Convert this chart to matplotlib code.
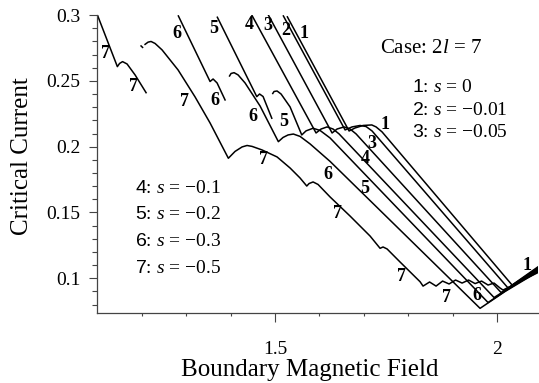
import matplotlib.pyplot as plt
import numpy as np

plt.rcParams['mathtext.fontset'] = 'custom'
plt.rcParams['mathtext.rm'] = 'Liberation Serif'
plt.rcParams['mathtext.it'] = 'Liberation Serif:italic'
plt.rcParams['mathtext.sf'] = 'Liberation Sans'

# critical current vs boundary field, case 2l = 7, one list pair per branch
# curve 1: s = 0
c1_x = [1.5277, 1.6667, 1.6802, 1.6982, 1.7178, 1.7275, 1.7410, 2.0338, 2.0946]
c1_y = [0.2986, 0.2119, 0.2142, 0.2161, 0.2165, 0.2150, 0.2112, 0.0949, 0.1093]
# curve 2: s = -0.01
c2_x = [1.5187, 1.6577, 1.6734, 1.6914, 1.7050, 1.7185, 2.0248, 2.0946]
c2_y = [0.2993, 0.2127, 0.2150, 0.2161, 0.2153, 0.2119, 0.0926, 0.1085]
# curve 3: s = -0.05
c3_x = [1.4849, 1.6284, 1.6396, 1.6554, 1.6689, 1.6824, 2.0090, 2.0946]
c3_y = [0.3000, 0.2104, 0.2134, 0.2150, 0.2134, 0.2097, 0.0892, 0.1078]
# curve 4: s = -0.1
c4_x = [1.4475, 1.5923, 1.6036, 1.6171, 1.6306, 1.6441, 1.9932, 2.0946]
c4_y = [0.3000, 0.2104, 0.2134, 0.2150, 0.2134, 0.2097, 0.0854, 0.1071]
# curve 5: s = -0.2
c5a_x = [1.3700, 1.4588, 1.4651, 1.4730, 1.4926]
c5a_y = [0.2983, 0.2380, 0.2400, 0.2381, 0.2216]
c5b_x = [1.4948, 1.4977, 1.5045, 1.5135, 1.5338, 1.5601, 1.5698, 1.5856, 1.6014,
         1.6239, 1.9797, 2.0180, 2.0946]
c5b_y = [0.2404, 0.2419, 0.2423, 0.2400, 0.2302, 0.2089, 0.2120, 0.2140, 0.2123,
         0.2066, 0.0816, 0.0903, 0.1063]
# curve 6: s = -0.3
c6a_x = [1.2822, 1.3536, 1.3604, 1.3694, 1.3874]
c6a_y = [0.2993, 0.2495, 0.2514, 0.2484, 0.2355]
c6b_x = [1.3975, 1.4009, 1.4077, 1.4167, 1.4324, 1.4662, 1.5074, 1.5180, 1.5293,
         1.5412, 1.5563, 1.5788, 1.6239, 1.9617, 2.0180, 2.0946]
c6b_y = [0.2537, 0.2556, 0.2562, 0.2545, 0.2484, 0.2309, 0.2038, 0.2070, 0.2089,
         0.2096, 0.2078, 0.2021, 0.1888, 0.0772, 0.0900, 0.1055]
# curve 7: s = -0.5
c7a_x = [1.1007, 1.1448, 1.1498, 1.1565, 1.1667, 1.1847, 1.2095]
c7a_y = [0.2993, 0.2608, 0.2632, 0.2646, 0.2628, 0.2545, 0.2410]
c7t_x = [1.1982, 1.2016]
c7t_y = [0.2765, 0.2754]
c7b_x = [1.2072, 1.2140, 1.2207, 1.2297, 1.2455, 1.2815, 1.3198, 1.3536, 1.3948,
         1.4099, 1.4257, 1.4369, 1.4482, 1.4707, 1.5045, 1.5338, 1.5563, 1.5714,
         1.5766, 1.5856, 1.5968, 1.6239, 1.6689, 1.7140, 1.7365, 1.7432, 1.7523,
         1.7815, 1.8266, 1.8333, 1.8480, 1.8626, 1.8773, 1.8919, 1.9065, 1.9212,
         1.9358, 1.9505, 1.9651, 1.9797, 1.9932, 2.0068, 2.0135, 2.0946]
c7b_y = [0.2777, 0.2794, 0.2799, 0.2784, 0.2735, 0.2583, 0.2378, 0.2180, 0.1912,
         0.1964, 0.1998, 0.2009, 0.2002, 0.1975, 0.1922, 0.1838, 0.1762, 0.1701,
         0.1720, 0.1732, 0.1713, 0.1618, 0.1473, 0.1321, 0.1228, 0.1238, 0.1223,
         0.1124, 0.0974, 0.0941, 0.0972, 0.0941, 0.0979, 0.0957, 0.0987, 0.0964,
         0.0987, 0.0960, 0.0979, 0.0949, 0.0964, 0.0926, 0.0911, 0.1048]

branches = [(c1_x, c1_y), (c2_x, c2_y), (c3_x, c3_y), (c4_x, c4_y),
            (c5a_x, c5a_y), (c5b_x, c5b_y), (c6a_x, c6a_y), (c6b_x, c6b_y),
            (c7a_x, c7a_y), (c7t_x, c7t_y), (c7b_x, c7b_y)]

# numbers written next to the curves
tag_text = ['7', '7', '7', '7', '7', '7', '7',
            '6', '6', '6', '6', '6',
            '5', '5', '5', '4', '4', '3', '3', '2', '1', '1', '1']
tag_x = [1.1182, 1.1802, 1.2962, 1.4736, 1.6408, 1.7854, 1.8867,
         1.2793, 1.3649, 1.4511, 1.6200, 1.9543,
         1.3619, 1.5187, 1.7027, 1.4414, 1.7027, 1.4827, 1.7178, 1.5236,
         1.5653, 1.7477, 2.0669]
tag_y = [0.2704, 0.2457, 0.2340, 0.1899, 0.1494, 0.1017, 0.0854,
         0.2862, 0.2351, 0.2228, 0.1785, 0.0873,
         0.2894, 0.2190, 0.1684, 0.2925, 0.1912, 0.2917, 0.2026, 0.2879,
         0.2856, 0.2165, 0.1101]

legend_top = ['$\\mathsf{1}$: $s$ = 0', '$\\mathsf{2}$: $s$ = \u22120.01',
              '$\\mathsf{3}$: $s$ = \u22120.05']
legend_bottom = ['$\\mathsf{4}$: $s$ = \u22120.1', '$\\mathsf{5}$: $s$ = \u22120.2',
                 '$\\mathsf{6}$: $s$ = \u22120.3', '$\\mathsf{7}$: $s$ = \u22120.5']

fig = plt.figure(figsize=(5.39, 3.83), dpi=100)
ax = fig.add_axes([0.180, 0.1836, 0.818, 0.7772])

for bx, by in branches:
    ax.plot(bx, by, color='black', lw=1.1)

for t, x, y in zip(tag_text, tag_x, tag_y):
    ax.text(x, y, t, ha='center', va='center', fontsize=13,
            family='Liberation Serif', fontweight='bold')

ax.text(1.7365, 0.2742, 'Case: 2$l$ = 7', ha='left', va='center',
        fontsize=15, family='Liberation Serif')
for i, s in enumerate(legend_top):
    ax.text(1.8079, 0.2451 - i * 0.0173, s, ha='left', va='center',
            fontsize=14, family='Liberation Serif')
for i, s in enumerate(legend_bottom):
    ax.text(1.1847, 0.1684 - i * 0.0202, s, ha='left', va='center',
            fontsize=14, family='Liberation Serif')

ax.set_xlim(1.099, 2.092)
ax.set_ylim(0.0739, 0.3)

ax.set_xticks([1.5, 2.0])
ax.set_xticklabels(['1.5', '2'])
ax.set_xticks(np.arange(1.2, 2.1, 0.1), minor=True)
ax.set_yticks([0.1, 0.15, 0.2, 0.25, 0.3])
ax.set_yticklabels(['0.1', '0.15', '0.2', '0.25', '0.3'])
ax.set_yticks(np.arange(0.08, 0.3, 0.01), minor=True)

for lab in ax.get_xticklabels() + ax.get_yticklabels():
    lab.set_family('Liberation Serif')
    lab.set_fontsize(14)

ax.tick_params(axis='x', which='major', length=6.5, width=0.8, pad=14, color='#444')
ax.tick_params(axis='x', which='minor', length=2.2, width=0.8, color='#444')
ax.tick_params(axis='y', which='major', length=6.0, width=0.8, pad=6, color='#444')
ax.tick_params(axis='y', which='minor', length=3.6, width=0.8, color='#444')

for side in ['top', 'right']:
    ax.spines[side].set_visible(False)
for side in ['left', 'bottom']:
    ax.spines[side].set_color('#444')
    ax.spines[side].set_linewidth(0.9)

fig.text(0.575, 0.0183, 'Boundary Magnetic Field', ha='center', va='baseline',
         fontsize=18, family='Liberation Serif')
fig.text(0.0417, 0.593, 'Critical Current', ha='center', va='center',
         rotation=90, fontsize=18, family='Liberation Serif')

fig.savefig('out.png', dpi=100)
